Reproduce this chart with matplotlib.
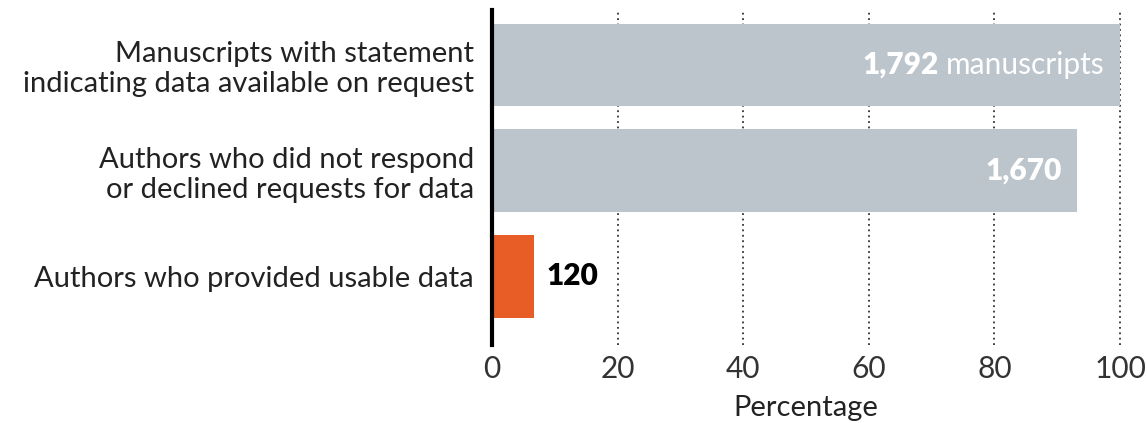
import numpy as np
import matplotlib.pyplot as plt

plt.rcParams['font.family'] = ['Lato', 'DejaVu Sans']

categories = ["Manuscripts with statement\nindicating data available on request",
              "Authors who did not respond\nor declined requests for data",
              "Authors who provided usable data"]
counts = [1792, 1670, 120]
total = 1792
percent = [c / total * 100 for c in counts]
colors = ["#bcc4cc", "#bcc4cc", "#e85c25"]
xticks = [0, 20, 40, 60, 80, 100]

fig = plt.figure(figsize=(11.47, 4.23), dpi=100)
ax = fig.add_axes([492 / 1147, 1 - 345 / 423, 628 / 1147, 335 / 423])

y = np.arange(len(categories))
ax.barh(y, percent, height=0.78, color=colors, zorder=2)

for x in xticks[1:]:
    ax.axvline(x, color="#333333", linestyle=(0, (1, 2)), linewidth=1.3, zorder=1,
               clip_on=False)
ax.axvline(0, color="black", linewidth=3, zorder=3, clip_on=False)

ax.set_xlim(0, 100)
ax.set_ylim(2.65, -0.52)
ax.set_yticks(y)
ax.set_yticklabels(categories, fontsize=21, color="#222222", linespacing=1.18)
ax.set_xticks(xticks)
ax.set_xticklabels([str(t) for t in xticks], fontsize=21.5, color="#333333")
ax.tick_params(axis="both", length=0)
ax.tick_params(axis="y", pad=13)
ax.tick_params(axis="x", pad=7)
for s in ax.spines.values():
    s.set_visible(False)
fig.text(806 / 1147, 2 / 423, "Percentage", ha="center", va="bottom",
         fontsize=21, color="#222222")

# value labels
t = ax.annotate("manuscripts", (percent[0], 0), xytext=(-11, 0), textcoords="offset points",
                ha="right", va="center", color="white", fontsize=21.5)
fig.canvas.draw()
bb = t.get_window_extent()
x0 = ax.transData.inverted().transform((bb.x0 - 7, 0))[0]
ax.text(x0, 0, f"{counts[0]:,}", ha="right", va="center", color="white",
        fontsize=21.5, fontweight="heavy")
ax.annotate(f"{counts[1]:,}", (percent[1], 1), xytext=(-11, 0), textcoords="offset points",
            ha="right", va="center", color="white", fontsize=21.5, fontweight="heavy")
ax.annotate(f"{counts[2]:,}", (percent[2], 2), xytext=(9, 0), textcoords="offset points",
            ha="left", va="center", color="black", fontsize=21.5, fontweight="heavy")

fig.savefig("out.png", dpi=100)
